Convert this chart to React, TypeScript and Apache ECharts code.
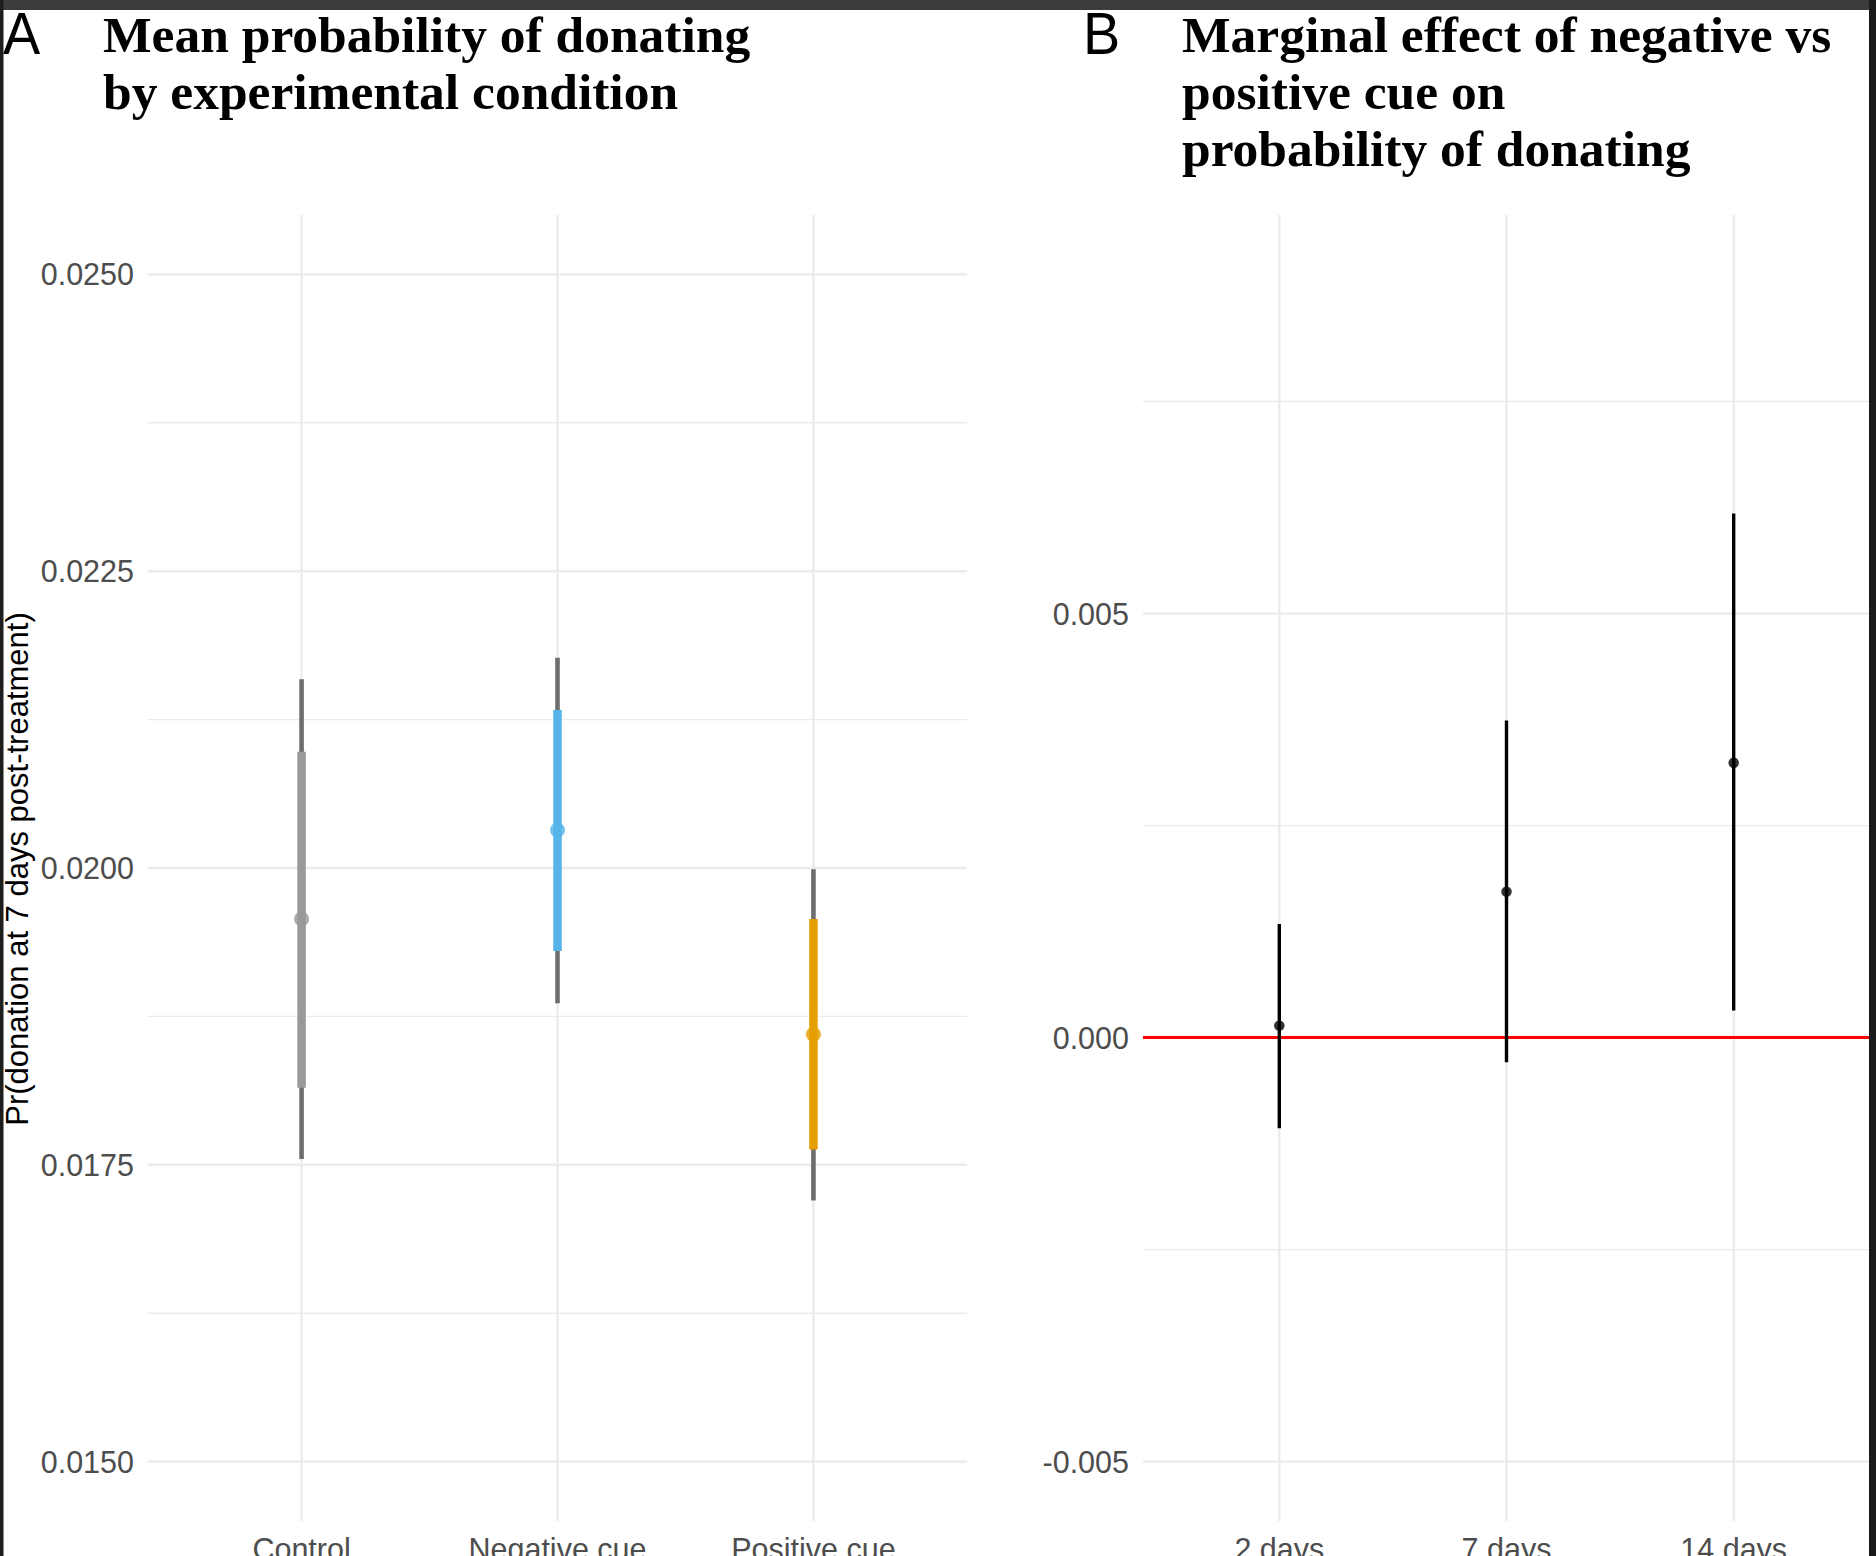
import React, { useEffect, useRef } from "react";
import * as echarts from "echarts";

// Panel A: mean probability of donating, with 66% (thick) and 95% (thin) intervals
const conditions = ["Control", "Negative cue", "Positive cue"];
const conditionColors = ["#999999", "#56B4E9", "#E69F00"];
const meanProb = [0.01957, 0.02032, 0.0186];
const innerLow = [0.01815, 0.0193, 0.01763];
const innerHigh = [0.02098, 0.02133, 0.01957];
const outerLow = [0.01755, 0.01886, 0.0172];
const outerHigh = [0.02159, 0.02177, 0.01999];
const yTicksA = [0.015, 0.0175, 0.02, 0.0225, 0.025];
const yMinorA = [0.01625, 0.01875, 0.02125, 0.02375];

// Panel B: marginal effect of negative vs positive cue
const horizons = ["2 days", "7 days", "14 days"];
const effect = [0.00014, 0.00172, 0.00324];
const effectLow = [-0.00107, -0.00029, 0.00032];
const effectHigh = [0.00134, 0.00374, 0.00618];
const yTicksB = [-0.005, 0, 0.005];
const yMinorB = [-0.0025, 0.0025, 0.0075];

const SANS = "'Liberation Sans', Arial, sans-serif";
const SERIF = "'Liberation Serif', 'Times New Roman', serif";
const GRID_COLOR = "#EBEBEB";

const gridLines = (horizontal: boolean) => (params: any, api: any) => {
    const cs = params.coordSys;
    const p = api.coord([api.value(0), api.value(1)]);
    const major = api.value(2) === 1;
    const shape = horizontal
        ? { x1: cs.x, y1: p[1], x2: cs.x + cs.width, y2: p[1] }
        : { x1: p[0], y1: cs.y, x2: p[0], y2: cs.y + cs.height };
    return {
        type: "line",
        shape,
        style: { stroke: GRID_COLOR, lineWidth: major ? 2.4 : 1.4 },
    };
};

const intervalLines = (colors: string[], width: number) => (params: any, api: any) => {
    const a = api.coord([api.value(0), api.value(1)]);
    const b = api.coord([api.value(0), api.value(2)]);
    return {
        type: "line",
        shape: { x1: a[0], y1: a[1], x2: b[0], y2: b[1] },
        style: { stroke: colors[params.dataIndex % colors.length], lineWidth: width },
    };
};

const App: React.FC = () => {
    const chartRef = useRef<HTMLDivElement>(null);

    useEffect(() => {
        document.body.style.margin = "0";
        if (!chartRef.current) return;
        const chart = echarts.init(chartRef.current, undefined, { renderer: "svg" });

        const axisLabelStyle = { color: "#4D4D4D", fontSize: 30.5, fontFamily: SANS };
        const hiddenAxis = {
            axisLine: { show: false },
            axisTick: { show: false },
            splitLine: { show: false },
        };

        const options: any = {
            animation: false,
            backgroundColor: "#ffffff",
            grid: [
                // labels may run off the page, as in the cropped screenshot
                { left: 148, right: 909, top: 215, bottom: 35, outerBoundsMode: "none", containLabel: false },
                { left: 1143, right: 6, top: 215, bottom: 35, outerBoundsMode: "none", containLabel: false },
            ],
            xAxis: [
                {
                    type: "value",
                    gridIndex: 0,
                    min: 0.4,
                    max: 3.6,
                    ...hiddenAxis,
                    axisLabel: {
                        ...axisLabelStyle,
                        margin: 12,
                        customValues: [1, 2, 3],
                        formatter: (v: number) => conditions[Math.round(v) - 1] ?? "",
                    },
                },
                {
                    type: "value",
                    gridIndex: 1,
                    min: 0.4,
                    max: 3.6,
                    ...hiddenAxis,
                    axisLabel: {
                        ...axisLabelStyle,
                        margin: 12,
                        customValues: [1, 2, 3],
                        formatter: (v: number) => horizons[Math.round(v) - 1] ?? "",
                    },
                },
            ],
            yAxis: [
                {
                    type: "value",
                    gridIndex: 0,
                    min: 0.0145,
                    max: 0.0255,
                    ...hiddenAxis,
                    axisLabel: {
                        ...axisLabelStyle,
                        margin: 14,
                        customValues: yTicksA,
                        formatter: (v: number) => v.toFixed(4),
                    },
                },
                {
                    type: "value",
                    gridIndex: 1,
                    min: -0.0057,
                    max: 0.0097,
                    ...hiddenAxis,
                    axisLabel: {
                        ...axisLabelStyle,
                        margin: 14,
                        customValues: yTicksB,
                        formatter: (v: number) => v.toFixed(3),
                    },
                },
            ],
            series: [
                // grid lines, panel A
                {
                    type: "custom",
                    xAxisIndex: 0,
                    yAxisIndex: 0,
                    silent: true,
                    z: 0,
                    renderItem: gridLines(true),
                    data: [
                        ...yTicksA.map((v) => [1, v, 1]),
                        ...yMinorA.map((v) => [1, v, 0]),
                    ],
                },
                {
                    type: "custom",
                    xAxisIndex: 0,
                    yAxisIndex: 0,
                    silent: true,
                    z: 0,
                    renderItem: gridLines(false),
                    data: conditions.map((_, i) => [i + 1, 0.02, 1]),
                },
                // grid lines, panel B
                {
                    type: "custom",
                    xAxisIndex: 1,
                    yAxisIndex: 1,
                    silent: true,
                    z: 0,
                    renderItem: gridLines(true),
                    data: [
                        ...yTicksB.map((v) => [1, v, 1]),
                        ...yMinorB.map((v) => [1, v, 0]),
                    ],
                },
                {
                    type: "custom",
                    xAxisIndex: 1,
                    yAxisIndex: 1,
                    silent: true,
                    z: 0,
                    renderItem: gridLines(false),
                    data: horizons.map((_, i) => [i + 1, 0, 1]),
                },
                // panel A intervals
                {
                    type: "custom",
                    xAxisIndex: 0,
                    yAxisIndex: 0,
                    z: 2,
                    renderItem: intervalLines(["#6E6E6E"], 4.6),
                    data: conditions.map((_, i) => [i + 1, outerLow[i], outerHigh[i]]),
                },
                {
                    type: "custom",
                    xAxisIndex: 0,
                    yAxisIndex: 0,
                    z: 3,
                    renderItem: intervalLines(conditionColors, 8.5),
                    data: conditions.map((_, i) => [i + 1, innerLow[i], innerHigh[i]]),
                },
                {
                    type: "scatter",
                    xAxisIndex: 0,
                    yAxisIndex: 0,
                    z: 4,
                    symbolSize: 15,
                    data: meanProb.map((v, i) => ({
                        value: [i + 1, v],
                        itemStyle: { color: conditionColors[i] },
                    })),
                },
                // panel B: zero line, intervals, points
                {
                    type: "custom",
                    xAxisIndex: 1,
                    yAxisIndex: 1,
                    z: 2,
                    renderItem: (params: any, api: any) => {
                        const cs = params.coordSys;
                        const p = api.coord([api.value(0), api.value(1)]);
                        return {
                            type: "line",
                            shape: { x1: cs.x, y1: p[1], x2: cs.x + cs.width, y2: p[1] },
                            style: { stroke: "#FF0000", lineWidth: 3 },
                        };
                    },
                    data: [[1, 0]],
                },
                {
                    type: "custom",
                    xAxisIndex: 1,
                    yAxisIndex: 1,
                    z: 3,
                    renderItem: intervalLines(["#000000"], 3.4),
                    data: horizons.map((_, i) => [i + 1, effectLow[i], effectHigh[i]]),
                },
                {
                    type: "scatter",
                    xAxisIndex: 1,
                    yAxisIndex: 1,
                    z: 4,
                    symbolSize: 10.5,
                    itemStyle: { color: "#000000" },
                    data: effect.map((v, i) => [i + 1, v]),
                },
            ],
            graphic: [
                {
                    type: "text",
                    x: 17,
                    y: 869,
                    rotation: Math.PI / 2,
                    style: {
                        text: "Pr(donation at 7 days post-treatment)",
                        font: `31px ${SANS}`,
                        fill: "#000000",
                        align: "center",
                        verticalAlign: "middle",
                        textAlign: "center",
                        textVerticalAlign: "middle",
                    },
                },
                {
                    type: "text",
                    x: 3,
                    y: 33,
                    scaleX: 0.93,
                    style: {
                        text: "A",
                        font: `60px ${SANS}`,
                        fill: "#000000",
                        verticalAlign: "middle",
                        textVerticalAlign: "middle",
                    },
                },
                {
                    type: "text",
                    x: 1083,
                    y: 33,
                    scaleX: 0.93,
                    style: {
                        text: "B",
                        font: `60px ${SANS}`,
                        fill: "#000000",
                        verticalAlign: "middle",
                        textVerticalAlign: "middle",
                    },
                },
                {
                    type: "text",
                    x: 103,
                    y: 6,
                    style: {
                        text: "Mean probability of donating\nby experimental condition",
                        font: `bold 51.5px ${SERIF}`,
                        lineHeight: 57,
                        fill: "#000000",
                        verticalAlign: "top",
                        textVerticalAlign: "top",
                    },
                },
                {
                    type: "text",
                    x: 1182,
                    y: 6,
                    style: {
                        text: "Marginal effect of negative vs\npositive cue on\nprobability of donating",
                        font: `bold 51.5px ${SERIF}`,
                        lineHeight: 57,
                        fill: "#000000",
                        verticalAlign: "top",
                        textVerticalAlign: "top",
                    },
                },
                // dark frame of the screenshot
                { type: "rect", z: 100, shape: { x: 0, y: 0, width: 1876, height: 10 }, style: { fill: "#3C3C3C" } },
                { type: "rect", z: 100, shape: { x: 0, y: 0, width: 3.5, height: 1556 }, style: { fill: "#1E1E1E" } },
                { type: "rect", z: 100, shape: { x: 1869, y: 0, width: 7, height: 1556 }, style: { fill: "#1A1A1A" } },
            ],
        };

        chart.setOption(options);

        const handleResize = () => chart.resize();
        window.addEventListener("resize", handleResize);
        return () => {
            window.removeEventListener("resize", handleResize);
            chart.dispose();
        };
    }, []);

    return <div ref={chartRef} style={{ width: "1876px", height: "1556px" }} />;
};

export default App;
